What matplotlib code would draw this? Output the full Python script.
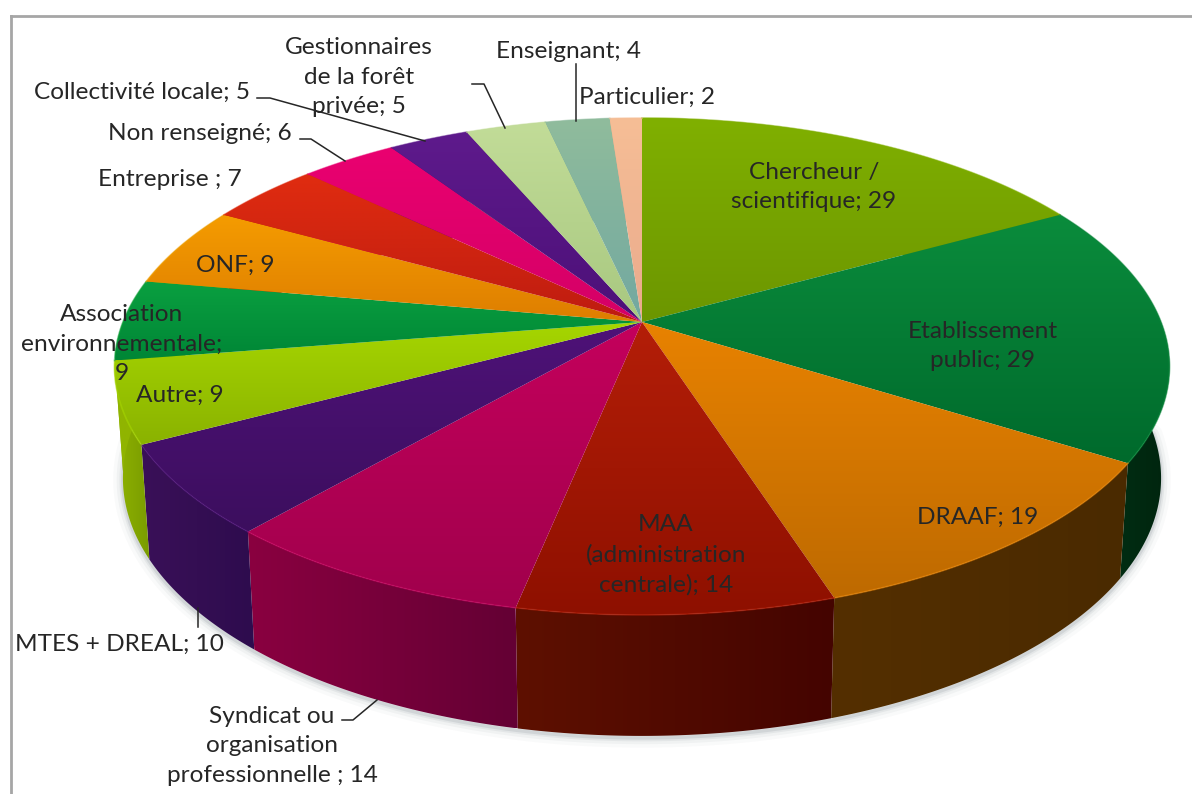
import numpy as np
import matplotlib
matplotlib.use("Agg")
import matplotlib.pyplot as plt
from matplotlib.patches import Polygon
from matplotlib.colors import to_rgb

categories = ["Chercheur /\nscientifique", "Etablissement\npublic", "DRAAF",
              "MAA\n(administration\ncentrale)", "Syndicat ou\norganisation\nprofessionnelle ",
              "MTES + DREAL", "Autre", "Association\nenvironnementale", "ONF",
              "Entreprise ", "Non renseigné", "Collectivité locale",
              "Gestionnaires\nde la forêt\nprivée", "Enseignant", "Particulier"]
values = [29, 29, 19, 14, 14, 10, 9, 9, 9, 7, 6, 5, 5, 4, 2]
separators = ["; ", "; ", "; ", "; ", "; ", "; ", "; ", ";\n", "; ", "; ", "; ", "; ", "; ", "; ", "; "]

# top face colours: far end / near end of each slice
top_far = ["#80B000", "#0A8C3C", "#E88200", "#B41E08", "#C4005C", "#4E1278", "#A6D600", "#0AA040",
           "#F59C00", "#E02C10", "#EA0070", "#5E1A8C", "#C2DC98", "#90BC9C", "#F6BE96"]
top_near = ["#6C9600", "#006A2C", "#BE6A00", "#8E1000", "#A0004C", "#3C0E5E", "#8AB200", "#008636",
            "#DE7E00", "#BE1C10", "#D40066", "#4C1078", "#A8C880", "#72A8A0", "#EAAA8C"]
# side colours: left / right of each slice (only the front ones are seen)
side_left = ["#6C9600", "#013818", "#542F00", "#5E1000", "#8A0040", "#3A1058", "#90B400", "#90B400",
             "#90B400", "#BE1C10", "#D40066", "#4C1078", "#A8C880", "#72A8A0", "#EAAA8C"]
side_right = ["#6C9600", "#00240E", "#4A2A00", "#440400", "#640034", "#2E0C4E", "#7A9C00", "#90B400",
              "#90B400", "#BE1C10", "#D40066", "#4C1078", "#A8C880", "#72A8A0", "#EAAA8C"]

# leader lines, in picture pixels
leaders = [[(257, 98), (270, 98), (425, 141)],
           [(300, 139), (311, 139), (345, 161)],
           [(472, 84), (484, 84), (505, 128)],
           [(576, 64), (576, 121)],
           [(198, 608), (198, 627)],
           [(342, 720), (353, 720), (377, 700)]]
label_pos = [(814, 187), (983, 346), (978, 517), (666, 555), (272, 746), (119, 644), (180, 395),
             (122, 344), (235, 265), (170, 180), (200, 133), (142, 92), (359, 77), (568, 51), (647, 97)]

CX, CY = 642, 322
R, H, P = 519.0, 240.5, 0.179
FONT = "Lato"


def rim(theta):
    # theta clockwise from 12 o'clock, perspective view of the disc
    u, v = np.sin(theta), np.cos(theta)
    d = 1 + P * v
    return CX + R * u / d, CY - H * v / d


def lower(x, y):
    # same rim on the floor of the pie
    return CX + 0.984 * (x - CX), CY + 110 + 1.0375 * (y - CY)


def gradient(ax, pts, c0, c1, horizontal=False, zorder=2):
    pts = np.asarray(pts)
    x0, x1 = pts[:, 0].min(), pts[:, 0].max()
    y0, y1 = pts[:, 1].min(), pts[:, 1].max()
    t = np.linspace(0, 1, 128)[:, None]
    img = (1 - t) * np.array(to_rgb(c0)) + t * np.array(to_rgb(c1))
    img = img[None, :, :] if horizontal else img[:, None, :]
    im = ax.imshow(img, extent=(x0, x1, y1, y0), aspect="auto", zorder=zorder, interpolation="bilinear")
    patch = Polygon(pts, closed=True, transform=ax.transData, fc="none", ec="none")
    ax.add_patch(patch)
    im.set_clip_path(patch)


fig = plt.figure(figsize=(11.92, 7.94), dpi=100, facecolor="white")
ax = fig.add_axes([0, 0, 1, 1])

edges = np.cumsum([0] + values) / sum(values) * 2 * np.pi

# soft shadow under the floor rim
t_all = np.linspace(np.pi * 0.5, np.pi * 1.6, 300)
xs, ys = lower(*rim(t_all))
for lw, a in [(14, 0.03), (9, 0.05), (5, 0.08), (2.5, 0.12)]:
    ax.plot(xs, ys + 2, color="#55606A", lw=lw, alpha=a, zorder=1, solid_capstyle="round")

# side walls
for i in range(len(values)):
    t = np.linspace(edges[i], edges[i + 1], 100)
    x, y = rim(t)
    x2, y2 = lower(x, y)
    pts = np.vstack([np.c_[x, y], np.c_[x2, y2][::-1]])
    gradient(ax, pts, side_left[i], side_right[i], horizontal=True, zorder=2)

# top faces
for i in range(len(values)):
    t = np.linspace(edges[i], edges[i + 1], 100)
    x, y = rim(t)
    pts = np.vstack([[CX, CY], np.c_[x, y]])
    gradient(ax, pts, top_far[i], top_near[i], zorder=3)
    ax.plot(x, y, color=top_far[i], lw=1.2, alpha=0.6, zorder=4)

# frame of the chart
ax.plot([11, 11], [794, 16], color="#A6A6A6", lw=2, zorder=5)
ax.plot([11, 1192], [16, 16], color="#A6A6A6", lw=2, zorder=5)

for line in leaders:
    lx, ly = zip(*line)
    ax.plot(lx, ly, color="#262626", lw=1.1, zorder=7)

for cat, val, sep, pos in zip(categories, values, separators, label_pos):
    ax.text(pos[0], pos[1], f"{cat}{sep}{val}", ha="center", va="center", fontsize=17.6,
            family=FONT, color="#262626", linespacing=1.5, zorder=6)

ax.set_xlim(0, 1192)
ax.set_ylim(794, 0)
ax.axis("off")
fig.savefig("out.png", dpi=100, facecolor="white")
